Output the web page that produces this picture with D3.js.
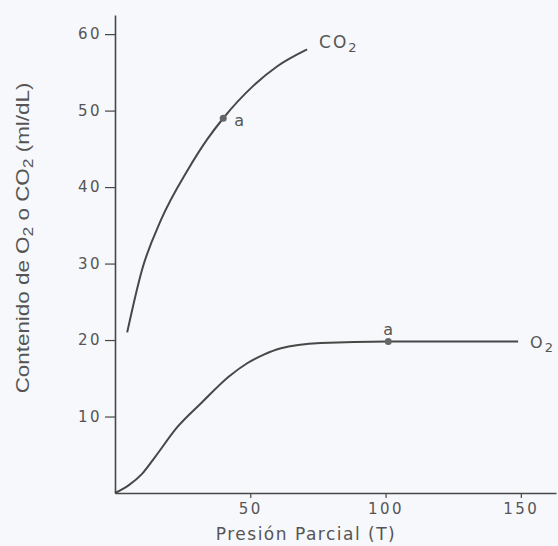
<!DOCTYPE html>
<html><head><meta charset="utf-8">
<script src="https://cdn.jsdelivr.net/npm/d3@7"></script>
<style>
body{margin:0;background:#f7f8fb;}
svg{display:block;}
text{font-family:"DejaVu Sans",sans-serif;fill:#555;}
</style></head>
<body><div id="chart"></div>
<script>
const co2P = [4.5, 10, 17, 27, 34, 40, 51, 60, 71];
const co2C = [21, 29.2, 35.7, 42.3, 46.2, 49, 53.2, 55.8, 58];
const o2P = [0, 5, 10, 15, 23, 32, 42, 49, 55, 61, 76, 101, 149];
const o2C = [0, 1, 2.5, 4.8, 8.6, 11.8, 15.2, 17, 18.1, 18.9, 19.6, 19.8, 19.8];
const pointA = [{p: 40, c: 49}, {p: 101, c: 19.8}];
const xTicks = [50, 100, 150];
const yTicks = [10, 20, 30, 40, 50, 60];

const W = 558, H = 546;
const svg = d3.select("#chart").append("svg").attr("width", W).attr("height", H);
const x = d3.scaleLinear().domain([0, 163]).range([115, 556]);
const y = d3.scaleLinear().domain([0, 62.5]).range([493, 15]);
const ink = "#474747";

// axes
const gx = svg.append("g").attr("transform", `translate(0,${y(0)})`)
  .call(d3.axisBottom(x).tickValues(xTicks).tickSize(5).tickSizeOuter(0).tickPadding(5));
const gy = svg.append("g").attr("transform", `translate(${x(0)},0)`)
  .call(d3.axisLeft(y).tickValues(yTicks).tickSize(10).tickSizeOuter(0).tickPadding(3));
[gx, gy].forEach(g => {
  g.select(".domain").attr("stroke", ink).attr("stroke-width", 1.6);
  g.selectAll(".tick line").attr("stroke", ink).attr("stroke-width", 1.2);
  g.selectAll(".tick text").style("font-size", "15px").style("letter-spacing", "2.5px").attr("fill", "#5a5a5a");
});

const line = d3.line().x(d => x(d[0])).y(d => y(d[1])).curve(d3.curveMonotoneX);
const co2 = co2P.map((p, i) => [p, co2C[i]]);
const o2 = o2P.map((p, i) => [p, o2C[i]]);
svg.append("path").attr("d", line(co2)).attr("fill", "none").attr("stroke", ink).attr("stroke-width", 2);
svg.append("path").attr("d", line(o2)).attr("fill", "none").attr("stroke", ink).attr("stroke-width", 2);

svg.selectAll("circle.a").data(pointA).enter().append("circle")
  .attr("cx", d => x(d.p)).attr("cy", d => y(d.c)).attr("r", 3.5).attr("fill", "#666");

// labels
svg.append("text").attr("x", x(pointA[0].p) + 11).attr("y", y(pointA[0].c) + 8).style("font-size", "16px").text("a");
svg.append("text").attr("x", x(pointA[1].p)).attr("y", y(pointA[1].c) - 7).attr("text-anchor", "middle").style("font-size", "16px").text("a");

const lab1 = svg.append("text").attr("x", x(co2P[co2P.length - 1]) + 12).attr("y", y(co2C[co2C.length - 1]) - 1).style("font-size", "17px").style("letter-spacing", "2px");
lab1.append("tspan").text("CO");
lab1.append("tspan").attr("dy", 4).style("font-size", "13px").text("2");

const lab2 = svg.append("text").attr("x", x(o2P[o2P.length - 1]) + 12).attr("y", y(o2C[o2C.length - 1]) + 6).style("font-size", "16px").style("letter-spacing", "2px");
lab2.append("tspan").text("O");
lab2.append("tspan").attr("dy", 4).style("font-size", "13px").text("2");

svg.append("text").attr("x", 306).attr("y", 540).attr("text-anchor", "middle")
  .style("font-size", "17px").style("letter-spacing", "1.5px").text("Presión Parcial  (T)");

const yt = svg.append("text").attr("text-anchor", "middle")
  .style("font-family", "'Liberation Sans', Arial, sans-serif").style("font-size", "18px").attr("fill", "#5a5a5a");
yt.append("tspan").text("Contenido de O");
yt.append("tspan").attr("dy", 4).style("font-size", "14px").text("2");
yt.append("tspan").attr("dy", -4).text(" o CO");
yt.append("tspan").attr("dy", 4).style("font-size", "14px").text("2");
yt.append("tspan").attr("dy", -4).text("  (ml/dL)");
const len = yt.node().getComputedTextLength();
yt.attr("transform", `translate(29,238) rotate(-90) scale(${311 / len},1)`);
</script></body></html>
